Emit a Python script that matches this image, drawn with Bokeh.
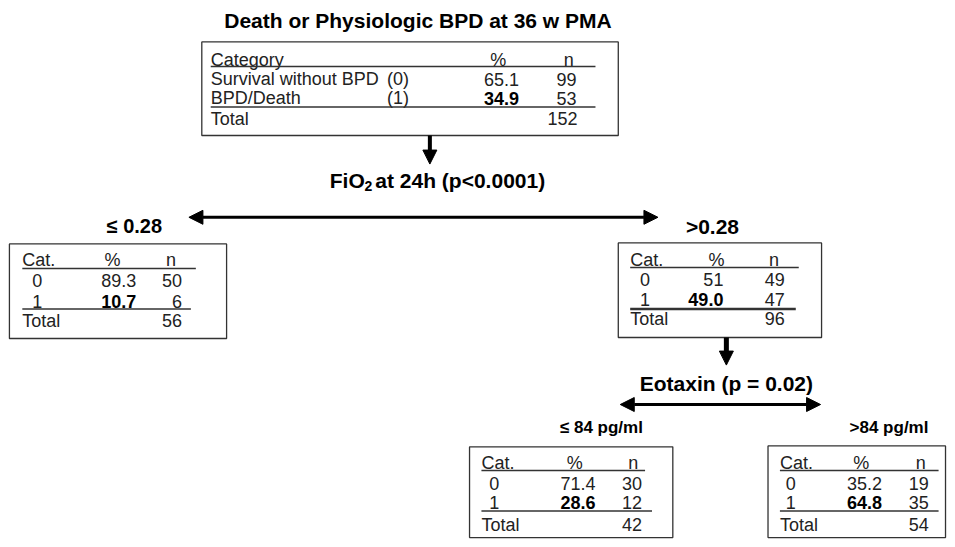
from bokeh.plotting import figure
from bokeh.models import Range1d, Arrow, NormalHead
from bokeh.core.properties import value
from bokeh.embed import file_html
from bokeh.resources import INLINE

# ---------------- data ----------------
root_title = "Death or Physiologic BPD at 36 w PMA"
root_headers = ["Category", "%", "n"]
root_categories = ["Survival without BPD", "BPD/Death"]
root_codes = ["(0)", "(1)"]
root_pct = ["65.1", "34.9"]
root_n = [99, 53]
root_total = 152

split1_parts = ["FiO", "2", "at 24h (p<0.0001)"]
split2_label = "Eotaxin (p = 0.02)"

node_headers = ["Cat.", "%", "n"]
node_codes = ["0", "1"]
node_labels = ["\u2264 0.28", ">0.28", "\u2264 84 pg/ml", ">84 pg/ml"]
node_pct0 = ["89.3", "51", "71.4", "35.2"]
node_pct1 = ["10.7", "49.0", "28.6", "64.8"]
node_n0 = [50, 49, 30, 19]
node_n1 = [6, 47, 12, 35]
node_total = [56, 96, 42, 54]

# ---------------- layout ----------------
FONT = value("Liberation Sans")
TXT = "#222222"
LINE = "#333333"

node_layout = [
    dict(box=(9, 247, 228, 343), label=(135, 229, "20px"), ys=(263, 272, 284, 305, 313, 325),
         xs=dict(cat=22, code=37, pct=137, pcth=113, n=183, nh=172), ul=(197, 192), lw=1.5),
    dict(box=(623, 246, 828, 342), label=(718, 229, "21px"), ys=(263, 271, 283, 303, 313, 323),
         xs=dict(cat=635, code=650, pct=729, pcth=722, n=791, nh=780), ul=(805, 802), lw=2.5),
    dict(box=(473, 453, 678, 545), label=(606, 433, "17px"), ys=(469, 477, 490, 509, 518, 532),
         xs=dict(cat=485, code=498, pct=600, pcth=579, n=647, nh=638), ul=(650, 657), lw=1.5),
    dict(box=(774, 452, 953, 545), label=(896, 433, "17px"), ys=(469, 477, 490, 509, 518, 532),
         xs=dict(cat=786, code=797, pct=889, pcth=868, n=936, nh=928), ul=(946, 946), lw=1.5),
]

p = figure(width=947, height=539, x_range=Range1d(0, 955), y_range=Range1d(547, 0),
           output_backend="svg", toolbar_location=None, min_border=0)
p.axis.visible = False
p.grid.visible = False
p.outline_line_color = None


def txt(x, y, s, size="18px", bold=False, align="left", color=None):
    p.text(x=[x], y=[y], text=[str(s)], text_font=FONT, text_font_size=value(size),
           text_font_style="bold" if bold else "normal", text_align=align,
           text_baseline="middle", text_color=color or ("#000000" if bold else TXT))


def hline(x0, x1, y, w=1.5):
    p.segment(x0=[x0], y0=[y], x1=[x1], y1=[y], line_color=LINE, line_width=w)


def box(l, t, r, b):
    p.quad(left=[l], right=[r], top=[t], bottom=[b], fill_alpha=0, line_color=LINE, line_width=1.3)


def arrow(x0, y0, x1, y1, w, both=False, size=14):
    head = lambda: NormalHead(size=size, fill_color="black", line_color="black")
    p.add_layout(Arrow(x_start=x0, y_start=y0, x_end=x1, y_end=y1, line_width=w,
                       line_color="black", end=head(), start=head() if both else None))


# root node
txt(421, 20, root_title, size="21px", bold=True, align="center")
box(203, 42, 623, 137)
txt(212, 60, root_headers[0])
txt(502, 60, root_headers[1], align="center")
txt(573, 60, root_headers[2], align="center")
hline(212, 600, 67)
row_y = [80, 99]
for i in range(2):
    txt(212, row_y[i], root_categories[i])
    txt(412, row_y[i], root_codes[i], align="right")
    txt(523, row_y[i], root_pct[i], bold=(i == 1), align="right")
    txt(581, row_y[i], root_n[i], align="right")
hline(212, 600, 108)
txt(212, 120, "Total")
txt(582, 120, root_total, align="right")

# split 1
arrow(433, 137, 433, 166, 4)
txt(332, 183, split1_parts[0], size="21px", bold=True)
txt(367, 188, split1_parts[1], size="14px", bold=True)
txt(378, 183, split1_parts[2], size="21px", bold=True)
arrow(190, 220, 663, 220, 3, both=True)

# children
for k, lay in enumerate(node_layout):
    l, t, r, b = lay["box"]
    box(l, t, r, b)
    lx, ly, ls = lay["label"]
    txt(lx, ly, node_labels[k], size=ls, bold=True, align="center")
    yh, yu, y0, y1, yl, yt = lay["ys"]
    xs = lay["xs"]
    txt(xs["cat"], yh, node_headers[0])
    txt(xs["pcth"], yh, node_headers[1], align="center")
    txt(xs["nh"], yh, node_headers[2], align="center")
    hline(xs["cat"], lay["ul"][0], yu)
    txt(xs["code"], y0, node_codes[0], align="center")
    txt(xs["pct"], y0, node_pct0[k], align="right")
    txt(xs["n"], y0, node_n0[k], align="right")
    txt(xs["code"], y1, node_codes[1], align="center")
    txt(xs["pct"], y1, node_pct1[k], bold=True, align="right")
    txt(xs["n"], y1, node_n1[k], align="right")
    hline(xs["cat"], lay["ul"][1], yl, w=lay["lw"])
    txt(xs["cat"], yt, "Total")
    txt(xs["n"], yt, node_total[k], align="right")

# split 2
arrow(732, 342, 732, 370, 5)
txt(732, 389, split2_label, size="21px", bold=True, align="center")
arrow(625, 410, 827, 410, 3, both=True)

open("out.html", "w").write(file_html(p, INLINE))
